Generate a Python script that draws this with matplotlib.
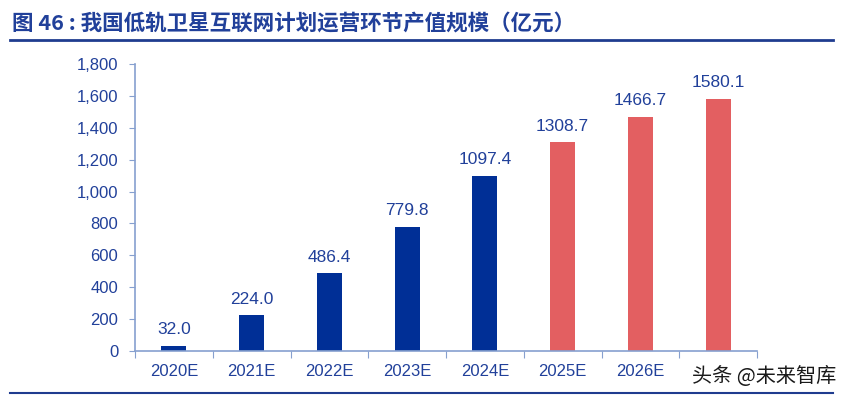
import matplotlib.pyplot as plt
import numpy as np

plt.rcParams['font.family'] = ['Liberation Sans', 'Noto Sans CJK SC', 'DejaVu Sans']

years = ['2020E', '2021E', '2022E', '2023E', '2024E', '2025E', '2026E', '2027E']
values = [32.0, 224.0, 486.4, 779.8, 1097.4, 1308.7, 1466.7, 1580.1]
labels = ['32.0', '224.0', '486.4', '779.8', '1097.4', '1308.7', '1466.7', '1580.1']
colors = ['#002f96'] * 5 + ['#e35f61'] * 3
yticks = [0, 200, 400, 600, 800, 1000, 1200, 1400, 1600, 1800]

title = '图 46 : 我国低轨卫星互联网计划运营环节产值规模（亿元）'
txt_blue = '#21409a'
axis_col = '#86a0cf'

fig = plt.figure(figsize=(8.47, 3.97), dpi=100)
ax = fig.add_axes([135 / 847, 1 - 351 / 397, (757 - 135) / 847, (351 - 64) / 397])

x = np.arange(len(years))
ax.bar(x, values, width=0.32, color=colors, zorder=2)
for xi, v, lab in zip(x, values, labels):
    ax.text(xi, v + 55, lab, ha='center', va='bottom', fontsize=12.5, color=txt_blue)

ax.set_xlim(-0.5, len(years) - 0.5)
ax.set_ylim(0, 1800)
ax.set_yticks(yticks)
ax.set_yticklabels([f'{t:,}' for t in yticks], fontsize=12, color=txt_blue)

ax.set_xticks(np.arange(-0.5, len(years), 1.0))
ax.set_xticklabels([])
ax.set_xticks(x, minor=True)
ax.set_xticklabels(years, minor=True, fontsize=12, color=txt_blue)
ax.tick_params(axis='x', which='minor', length=0, pad=9)
ax.tick_params(axis='x', which='major', length=5, color=axis_col, direction='out')
ax.tick_params(axis='y', length=4, color=axis_col, direction='out', pad=8)

for s in ['top', 'right']:
    ax.spines[s].set_visible(False)
for s in ['left', 'bottom']:
    ax.spines[s].set_color(axis_col)
    ax.spines[s].set_linewidth(1.2)

fig.text(12 / 847, 1 - 24 / 397, title, fontsize=15.5, fontweight='bold', color=txt_blue,
         ha='left', va='center', family=['Noto Sans CJK SC', 'DejaVu Sans'])
fig.add_artist(plt.Line2D([10 / 847, 833 / 847], [1 - 40 / 397, 1 - 40 / 397], color='#1f3c8f', lw=2))
fig.add_artist(plt.Line2D([10 / 847, 833 / 847], [1 - 393 / 397, 1 - 393 / 397], color='#1f3c8f', lw=1.5))
# watermark sits on a white patch over the last category label, as in the source image
fig.text(836 / 847, 1 - 376 / 397, '头条 @未来智库', fontsize=14.5, color='#1a1a1a', ha='right', va='center',
         family=['Noto Sans CJK SC', 'DejaVu Sans'],
         bbox=dict(facecolor='white', edgecolor='none', pad=1.5), zorder=5)

fig.savefig('out.png', dpi=100)
